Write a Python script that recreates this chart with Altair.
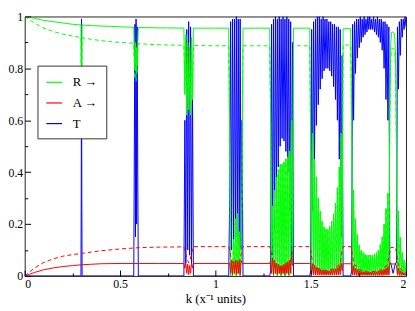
import altair as alt
import pandas as pd

# ------------------------------------------------------------------ data
STEP = 0.005  # k spacing of the samples typed inside each pass band

# axis ticks
X_MAJOR = [0, 0.5, 1, 1.5, 2]
X_MINOR = [0.25, 0.75, 1.25, 1.75]
Y_MAJOR = [0, 0.2, 0.4, 0.6, 0.8, 1]
Y_MINOR = [0.1, 0.3, 0.5, 0.7, 0.9]

# ---- T : stop bands and isolated resonances
K_T = [0.0, 0.295, 0.2965, 0.298, 0.2995, 0.301, 0.572, 0.575, 0.578, 0.581, 0.584,
       0.587, 0.590, 0.593, 0.596, 0.835, 0.885, 1.07, 1.145, 1.285, 1.41, 1.495,
       1.67, 1.71, 1.92, 1.932, 1.945]
T_VALS = [0.0, 0.0, 0.3, 0.99, 0.3, 0.0, 0.0, 0.5, 0.97, 0.15, 0.99, 0.2, 0.96, 0.4,
          0.0, 0.0, 0.0, 0.0, 0.0, 0.0, 0.0, 0.0, 0.0, 0.0, 0.05, 0.01, 0.05]

# ---- R (solid and dashed) : stop bands and isolated resonances
K_R = [0.0, 0.05, 0.1, 0.15, 0.2, 0.25, 0.295, 0.2965, 0.298, 0.2995, 0.301, 0.35, 0.4,
       0.45, 0.5, 0.55, 0.572, 0.575, 0.578, 0.581, 0.584, 0.587, 0.590, 0.593, 0.596,
       0.65, 0.7, 0.75, 0.835, 0.885, 1.0, 1.07, 1.145, 1.285, 1.41, 1.495, 1.67, 1.71,
       1.92, 1.925, 1.932, 1.94, 1.945]
R_VALS = [1.0, 0.993, 0.985, 0.98, 0.975, 0.97, 0.967, 0.8, 0.6, 0.8, 0.967, 0.965, 0.963,
          0.962, 0.96, 0.959, 0.958, 0.85, 0.8, 0.9, 0.79, 0.88, 0.82, 0.9, 0.957,
          0.957, 0.956, 0.956, 0.955, 0.955, 0.955, 0.955, 0.955, 0.955, 0.955, 0.955,
          0.953, 0.953, 0.9, 0.94, 0.94, 0.935, 0.85]
R2_VALS = [1.0, 0.975, 0.955, 0.942, 0.932, 0.925, 0.919, 0.75, 0.53, 0.75, 0.918, 0.912,
           0.907, 0.903, 0.9, 0.898, 0.897, 0.8, 0.76, 0.85, 0.75, 0.83, 0.78, 0.85, 0.895,
           0.893, 0.891, 0.89, 0.889, 0.888, 0.887, 0.887, 0.887, 0.887, 0.887, 0.887,
           0.89, 0.89, 0.84, 0.876, 0.876, 0.872, 0.8]

# ---- A solid : stop bands
K_A = [0.0, 0.05, 0.1, 0.15, 0.2, 0.25, 0.3, 0.35, 0.4, 0.5, 0.6, 0.7, 0.835, 0.885,
       1.07, 1.145, 1.285, 1.41, 1.495, 1.67, 1.71, 1.92, 1.945]
A_VALS = [0.0, 0.013, 0.024, 0.031, 0.036, 0.04, 0.043, 0.045, 0.047, 0.048, 0.048,
          0.048, 0.048, 0.048, 0.048, 0.048, 0.048, 0.048, 0.048, 0.047, 0.047, 0.046, 0.046]

# ---- A dashed : whole range
K_A2 = [0.0, 0.05, 0.1, 0.15, 0.2, 0.25, 0.3, 0.35, 0.4, 0.5, 0.6, 0.7, 0.835,
        0.84, 0.85, 0.86, 0.87, 0.88,
        0.885, 0.95, 1.0, 1.07,
        1.075, 1.085, 1.1, 1.11, 1.125, 1.14,
        1.145, 1.2, 1.285,
        1.29, 1.3, 1.315, 1.35, 1.385, 1.4, 1.405,
        1.41, 1.45, 1.495,
        1.5, 1.51, 1.53, 1.58, 1.63, 1.655, 1.665,
        1.67, 1.71,
        1.715, 1.725, 1.75, 1.8, 1.86, 1.9, 1.915,
        1.92, 1.945,
        1.95, 1.96, 1.98, 2.0]
A2_VALS = [0.0, 0.03, 0.052, 0.066, 0.076, 0.082, 0.087, 0.092, 0.097, 0.104, 0.109, 0.111, 0.112,
           0.1, 0.07, 0.05, 0.07, 0.1,
           0.113, 0.113, 0.113, 0.113,
           0.1, 0.06, 0.04, 0.035, 0.05, 0.1,
           0.113, 0.113, 0.113,
           0.1, 0.06, 0.035, 0.03, 0.04, 0.07, 0.1,
           0.113, 0.113, 0.113,
           0.1, 0.05, 0.03, 0.02, 0.03, 0.05, 0.1,
           0.113, 0.113,
           0.1, 0.05, 0.025, 0.015, 0.02, 0.04, 0.09,
           0.11, 0.11,
           0.09, 0.04, 0.02, 0.012]

# ---- pass bands (values every STEP in k, starting at BAND_STARTS)
BAND_STARTS = [0.84, 1.075, 1.29, 1.50, 1.715, 1.95]

T_A = [0.6, 0.05, 0.95, 0.1, 0.98, 0.08, 0.96, 0.05, 0.7]
T_B = [0.3, 0.98, 0.1, 0.99, 0.12, 0.99, 0.15, 1.0, 0.15, 0.99, 0.12, 0.99, 0.1, 0.6]
T_C = [0.02, 0.97, 0.08, 0.99, 0.18, 1.0, 0.3, 0.99, 0.42, 1.0, 0.5, 0.99, 0.53, 1.0,
       0.52, 0.99, 0.48, 1.0, 0.4, 0.99, 0.25, 0.98, 0.08, 0.9]
T_D = [0.02, 0.95, 0.25, 0.98, 0.45, 0.99, 0.58, 1.0, 0.66, 1.0, 0.72, 0.99, 0.76, 1.0,
       0.79, 0.99, 0.8, 0.99, 0.8, 0.98, 0.79, 0.98, 0.77, 0.97, 0.73, 0.97, 0.68, 0.96,
       0.6, 0.96, 0.45, 0.95, 0.15, 0.85]
T_E = [0.02, 0.97, 0.6, 0.98, 0.78, 0.99, 0.84, 0.99, 0.88, 1.0, 0.9, 0.99, 0.92, 1.0,
       0.93, 0.99, 0.94, 1.0, 0.95, 1.0, 0.95, 0.99, 0.95, 1.0, 0.94, 0.99, 0.93, 1.0,
       0.92, 0.99, 0.9, 0.99, 0.87, 0.98, 0.8, 0.98, 0.68, 0.97, 0.6, 0.96, 0.05]
T_F = [0.05, 0.96, 0.72, 0.98, 0.85, 0.99, 0.92, 0.99, 0.95, 1.0, 0.96]

R_A = [0.7, 0.93, 0.62, 0.9, 0.64, 0.88, 0.62, 0.92, 0.68]
R_B = [0.55, 0.0, 0.06, 0.0, 0.14, 0.01, 0.22, 0.0, 0.24, 0.01, 0.17, 0.0, 0.07, 0.35]
R_C = [0.6, 0.01, 0.27, 0.0, 0.33, 0.01, 0.38, 0.0, 0.41, 0.01, 0.43, 0.0, 0.43, 0.01,
       0.44, 0.0, 0.45, 0.01, 0.46, 0.0, 0.48, 0.01, 0.6, 0.05]
R_D = [0.5, 0.02, 0.55, 0.01, 0.45, 0.01, 0.38, 0.01, 0.3, 0.01, 0.25, 0.01, 0.21, 0.01,
       0.19, 0.01, 0.18, 0.01, 0.18, 0.01, 0.19, 0.01, 0.21, 0.01, 0.24, 0.01, 0.28, 0.01,
       0.34, 0.01, 0.42, 0.02, 0.55, 0.05]
R_E = [0.6, 0.01, 0.33, 0.01, 0.22, 0.01, 0.16, 0.005, 0.12, 0.005, 0.1, 0.005, 0.09,
       0.005, 0.085, 0.005, 0.08, 0.005, 0.08, 0.005, 0.08, 0.005, 0.08, 0.005, 0.085,
       0.005, 0.09, 0.005, 0.1, 0.005, 0.12, 0.005, 0.15, 0.005, 0.2, 0.01, 0.26, 0.01,
       0.32, 0.01, 0.6]
R_F = [0.5, 0.01, 0.25, 0.01, 0.15, 0.005, 0.09, 0.005, 0.06, 0.005, 0.05]

A_A = [0.03, 0.05, 0.01, 0.045, 0.005, 0.04, 0.01, 0.05, 0.03]
A_B = [0.05, 0.01, 0.06, 0.005, 0.055, 0.01, 0.06, 0.005, 0.06, 0.01, 0.055, 0.005, 0.06, 0.05]
A_C = [0.06, 0.01, 0.07, 0.005, 0.06, 0.01, 0.05, 0.005, 0.045, 0.01, 0.04, 0.005, 0.04,
       0.01, 0.045, 0.005, 0.05, 0.01, 0.055, 0.005, 0.06, 0.01, 0.08, 0.04]
A_D = [0.05, 0.005, 0.045, 0.004, 0.04, 0.003, 0.035, 0.003, 0.03, 0.003, 0.025, 0.003,
       0.022, 0.003, 0.02, 0.003, 0.02, 0.003, 0.02, 0.003, 0.02, 0.003, 0.022, 0.003,
       0.025, 0.003, 0.028, 0.003, 0.032, 0.003, 0.04, 0.005, 0.05, 0.02]
A_E = [0.05, 0.003, 0.04, 0.003, 0.03, 0.002, 0.025, 0.002, 0.02, 0.002, 0.018, 0.002,
       0.016, 0.002, 0.015, 0.002, 0.015, 0.002, 0.015, 0.002, 0.015, 0.002, 0.015, 0.002,
       0.015, 0.002, 0.016, 0.002, 0.018, 0.002, 0.02, 0.002, 0.022, 0.002, 0.025, 0.003,
       0.03, 0.003, 0.035, 0.003, 0.05]
A_F = [0.04, 0.003, 0.03, 0.002, 0.02, 0.002, 0.015, 0.002, 0.012, 0.002, 0.01]

T_BANDS = [T_A, T_B, T_C, T_D, T_E, T_F]
R_BANDS = [R_A, R_B, R_C, R_D, R_E, R_F]
A_BANDS = [A_A, A_B, A_C, A_D, A_E, A_F]


def build(name, ks, vals, bands=None):
    rows = [{"k": k, "v": v, "series": name} for k, v in zip(ks, vals)]
    if bands:
        for s, band in zip(BAND_STARTS, bands):
            rows += [{"k": round(s + i * STEP, 4), "v": v, "series": name}
                     for i, v in enumerate(band)]
    return pd.DataFrame(rows).sort_values("k").reset_index(drop=True)


df_T = build("T", K_T, T_VALS, T_BANDS)
df_R = build("R →", K_R, R_VALS, R_BANDS)
df_R2 = build("R dashed", K_R, R2_VALS, R_BANDS)
df_A = build("A →", K_A, A_VALS, A_BANDS)
df_A2 = build("A dashed", K_A2, A2_VALS)

# ------------------------------------------------------------------ chart
FONT = "Liberation Serif, Times New Roman, serif"
GREEN, RED, BLUE = "#00ff00", "#ff0000", "#0000ff"

xs = alt.Scale(domain=[0, 2], nice=False, zero=False)
ys = alt.Scale(domain=[0, 1], nice=False, zero=False)

color = alt.Color(
    "series:N",
    scale=alt.Scale(domain=["R →", "A →", "T"], range=[GREEN, RED, BLUE]),
    legend=alt.Legend(
        title=None, orient="none", legendX=13, legendY=50,
        symbolType="stroke", symbolSize=256, symbolStrokeWidth=1.2,
        labelFont=FONT, labelFontSize=13, labelColor="black", labelOffset=10,
        strokeColor="#333333", fillColor="white", padding=8, rowPadding=5,
    ),
)

x_main = alt.X("k:Q", scale=xs, axis=alt.Axis(
    values=X_MAJOR, format="~g", title="k (x⁻¹ units)", ticks=False, domain=False,
    grid=False, labelFont=FONT, labelFontSize=12, labelColor="black", labelPadding=3,
    titleFont=FONT, titleFontSize=13, titleFontWeight="normal", titleColor="black",
    titlePadding=3))
y_main = alt.Y("v:Q", scale=ys, axis=alt.Axis(
    values=Y_MAJOR, format="~g", title=None, ticks=False, domain=False, grid=False,
    labelFont=FONT, labelFontSize=12, labelColor="black", labelPadding=2))
x_none = alt.X("k:Q", scale=xs, axis=None)
y_none = alt.Y("v:Q", scale=ys, axis=None)

line = dict(strokeWidth=1, clip=True)

layer_T = alt.Chart(df_T).mark_line(**line).encode(x=x_main, y=y_main, color=color)
layer_R2 = alt.Chart(df_R2).mark_line(color=GREEN, strokeDash=[4, 3], **line).encode(x=x_none, y=y_none)
layer_R = alt.Chart(df_R).mark_line(**line).encode(x=x_none, y=y_none, color=color)
layer_A2 = alt.Chart(df_A2).mark_line(color=RED, strokeDash=[4, 3], **line).encode(x=x_none, y=y_none)
layer_A = alt.Chart(df_A).mark_line(**line).encode(x=x_none, y=y_none, color=color)


def tick_layer(xv, yv, size):
    return alt.Chart(df_T).mark_line(opacity=0).encode(
        x=alt.X("k:Q", scale=xs, axis=alt.Axis(
            orient="bottom", values=xv, labels=False, domain=False, grid=False,
            tickSize=size, tickColor="black", offset=-size, title=None, zindex=1)),
        y=alt.Y("v:Q", scale=ys, axis=alt.Axis(
            orient="left", values=yv, labels=False, domain=False, grid=False,
            tickSize=size, tickColor="black", offset=-size, title=None, zindex=1)),
    )


chart = (
    alt.layer(layer_T, layer_R2, layer_R, layer_A2, layer_A,
              tick_layer(X_MAJOR, Y_MAJOR, 6), tick_layer(X_MINOR, Y_MINOR, 3))
    .resolve_axis(x="independent", y="independent")
    .properties(width=406, height=300,
                autosize=alt.AutoSizeParams(type="fit", contains="padding"),
                padding={"left": 0, "top": 0, "right": 0, "bottom": 0})
    .configure_view(stroke="#222222", strokeWidth=1)
)

chart.save("out.html", embed_options={"renderer": "svg", "actions": False})
